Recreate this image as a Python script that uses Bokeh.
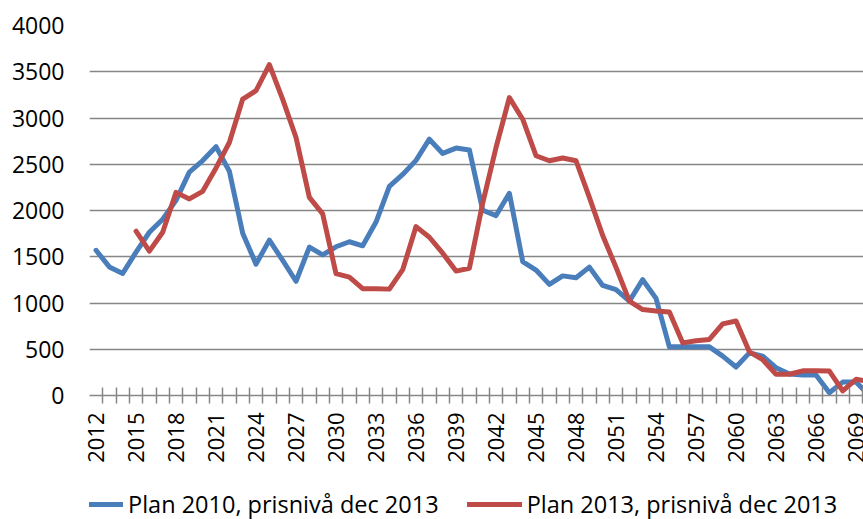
from bokeh.plotting import figure
from bokeh.layouts import column
from bokeh.models import FixedTicker, Range1d, Legend, LegendItem, ColumnDataSource
from bokeh.embed import file_html
from bokeh.resources import INLINE

# ---- data ----
years_2010 = list(range(2012, 2071))
plan_2010 = [1570, 1390, 1320, 1550, 1765, 1905, 2110, 2415, 2540, 2690,
             2425, 1755, 1420, 1680, 1460, 1235, 1605, 1520, 1608, 1662,
             1618, 1875, 2260, 2390, 2542, 2771, 2617, 2675, 2655, 2003,
             1945, 2186, 1448, 1356, 1201, 1293, 1273, 1388, 1190, 1144,
             1020, 1252, 1050, 526, 526, 526, 526, 426, 308, 461,
             426, 300, 232, 221, 221, 30, 145, 145, 0]

years_2013 = list(range(2015, 2071))
plan_2013 = [1776, 1561, 1765, 2196, 2125, 2207, 2460, 2735, 3205, 3295,
             3576, 3202, 2789, 2142, 1963, 1317, 1280, 1155, 1155, 1150,
             1360, 1826, 1711, 1539, 1345, 1375, 2080, 2681, 3220, 2987,
             2592, 2538, 2567, 2538, 2142, 1730, 1385, 1020, 929, 914,
             903, 569, 591, 606, 774, 806, 472, 387, 230, 230,
             267, 267, 264, 50, 175, 149]

label_years = list(range(2012, 2070, 3))
boundary_ticks = [y - 0.5 for y in range(2012, 2071)]
y_ticks = list(range(0, 4001, 500))

series_names = ["Plan 2010, prisnivå dec 2013", "Plan 2013, prisnivå dec 2013"]
colors = ["#4A7EBB", "#BE4B48"]

FONT = "Open Sans"
GRID = "#868686"
LW = 5

MAIN_H = 475
LEG_H = 519 - MAIN_H

p = figure(width=863, height=MAIN_H, output_backend="svg", toolbar_location=None,
           x_range=Range1d(2011.51, 2069.56), y_range=Range1d(0, 4000),
           min_border_left=89, min_border_right=0, min_border_top=25,
           min_border_bottom=MAIN_H - 395)
p.outline_line_color = None
p.background_fill_color = "white"
p.border_fill_color = "white"

src1 = ColumnDataSource(dict(x=years_2010, y=plan_2010))
src2 = ColumnDataSource(dict(x=years_2013, y=plan_2013))
r1 = p.line("x", "y", source=src1, line_color=colors[0], line_width=LW,
            line_join="round", line_cap="round")
r2 = p.line("x", "y", source=src2, line_color=colors[1], line_width=LW,
            line_join="round", line_cap="round")

# x axis
xa = p.xaxis[0]
xa.ticker = FixedTicker(ticks=label_years, minor_ticks=boundary_ticks)
xa.major_tick_line_color = None
xa.major_tick_in = 0
xa.major_tick_out = 8
xa.minor_tick_in = 8
xa.minor_tick_out = 8
xa.minor_tick_line_color = GRID
xa.minor_tick_line_width = 1.5
xa.axis_line_color = GRID
xa.axis_line_width = 1.5
xa.major_label_orientation = 3.14159265 / 2
xa.major_label_standoff = 9
xa.major_label_text_font = FONT
xa.major_label_text_font_size = "22px"
xa.major_label_text_color = "black"

# y axis
ya = p.yaxis[0]
ya.ticker = FixedTicker(ticks=y_ticks)
ya.axis_line_color = None
ya.major_tick_line_color = None
ya.minor_tick_line_color = None
ya.major_tick_in = 0
ya.major_tick_out = 0
ya.major_label_standoff = 25
ya.major_label_text_font = FONT
ya.major_label_text_font_size = "23px"
ya.major_label_text_color = "black"

p.xgrid.grid_line_color = None
p.ygrid.grid_line_color = GRID
p.ygrid.grid_line_width = 1.5

# legend strip below the chart (series keys only; the data lie outside its view)
leg = figure(width=863, height=LEG_H, output_backend="svg", toolbar_location=None,
             x_range=Range1d(0, 863), y_range=Range1d(0, LEG_H),
             x_axis_location=None, y_axis_location=None,
             min_border_left=0, min_border_right=0, min_border_top=0,
             min_border_bottom=0)
leg.grid.visible = False
leg.outline_line_color = None
leg.background_fill_color = "white"
leg.border_fill_color = "white"
k1 = leg.line(x=years_2010, y=plan_2010, line_color=colors[0], line_width=LW,
              line_cap="round")
k2 = leg.line(x=years_2013, y=plan_2013, line_color=colors[1], line_width=LW,
              line_cap="round")

legend = Legend(items=[LegendItem(label=series_names[0], renderers=[k1]),
                       LegendItem(label=series_names[1], renderers=[k2])],
                orientation="horizontal", location=(-21, -1),
                glyph_width=55, glyph_height=22, label_height=22,
                label_standoff=5, spacing=28, padding=0, margin=0,
                border_line_color=None, background_fill_alpha=0,
                label_text_font=FONT, label_text_font_size="23.5px",
                label_text_color="black")
leg.add_layout(legend, "center")

layout = column(p, leg, spacing=0)
open("out.html", "w").write(file_html(layout, INLINE))
